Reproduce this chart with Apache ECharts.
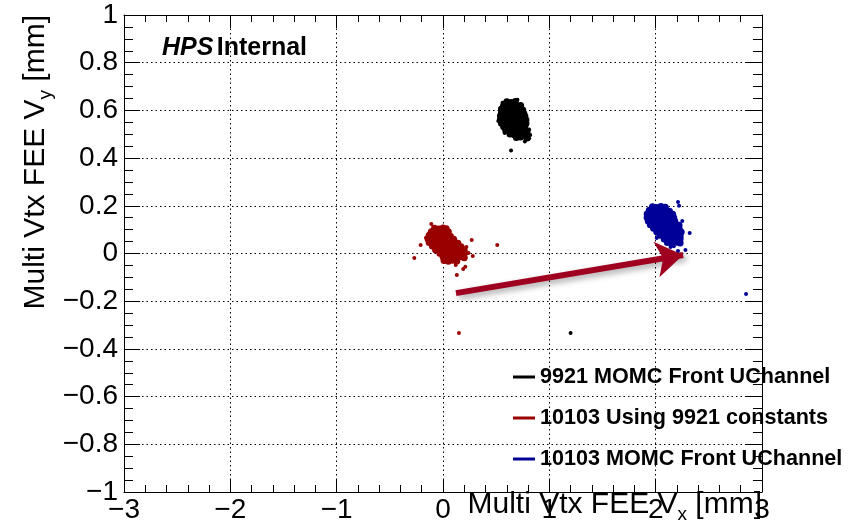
<!DOCTYPE html>
<html>
<head>
<meta charset="utf-8">
<script src="https://cdn.jsdelivr.net/npm/echarts@6/dist/echarts.min.js"></script>
<style>
html,body{margin:0;padding:0;background:#fff;}
#chart{width:859px;height:526px;}
</style>
</head>
<body>
<div id="chart"></div>
<script>
// ---- data (mm) ----
const seriesNames = ['9921 MOMC Front UChannel', '10103 Using 9921 constants', '10103 MOMC Front UChannel'];
const seriesColors = ['#000000', '#990000', '#000099'];

// 9921 cluster: dense core + sparse points
const black9921Core = [
  [0.60,0.636],[0.64,0.633],[0.68,0.637],
  [0.57,0.621],[0.61,0.618],[0.65,0.622],[0.69,0.619],[0.73,0.621],
  [0.55,0.606],[0.59,0.603],[0.63,0.607],[0.67,0.604],[0.71,0.606],[0.75,0.602],
  [0.55,0.591],[0.59,0.588],[0.63,0.592],[0.67,0.589],[0.71,0.591],[0.76,0.587],
  [0.54,0.576],[0.58,0.573],[0.62,0.577],[0.66,0.574],[0.70,0.576],[0.74,0.572],[0.77,0.575],
  [0.54,0.561],[0.58,0.558],[0.62,0.562],[0.66,0.559],[0.70,0.561],[0.74,0.557],[0.78,0.560],
  [0.55,0.546],[0.59,0.543],[0.63,0.547],[0.67,0.544],[0.71,0.546],[0.75,0.542],[0.78,0.545],
  [0.57,0.531],[0.61,0.528],[0.65,0.532],[0.69,0.529],[0.73,0.531],[0.77,0.527],
  [0.59,0.516],[0.63,0.513],[0.67,0.517],[0.71,0.514],[0.75,0.516],[0.79,0.512],
  [0.63,0.501],[0.67,0.498],[0.71,0.502],[0.75,0.499],[0.79,0.501],
  [0.69,0.486],[0.73,0.488],[0.79,0.484]
];
const black9921Sparse = [
  [0.64,0.432],[1.20,-0.333],[0.52,0.556],[0.81,0.482],[0.82,0.497],[0.77,0.470],
  [0.58,0.505],[0.70,0.645],[0.56,0.632],[0.81,0.520]
];

// 10103 with 9921 constants
const red10103oldCore = [
  [-0.08,0.106],[-0.04,0.103],[0.00,0.107],[0.03,0.104],
  [-0.11,0.091],[-0.07,0.088],[-0.03,0.092],[0.01,0.089],[0.05,0.091],
  [-0.13,0.076],[-0.09,0.073],[-0.05,0.077],[-0.01,0.074],[0.03,0.076],[0.07,0.072],
  [-0.14,0.061],[-0.10,0.058],[-0.06,0.062],[-0.02,0.059],[0.02,0.061],[0.06,0.057],[0.10,0.060],
  [-0.13,0.046],[-0.09,0.043],[-0.05,0.047],[-0.01,0.044],[0.03,0.046],[0.07,0.042],[0.11,0.045],[0.14,0.043],
  [-0.10,0.031],[-0.06,0.028],[-0.02,0.032],[0.02,0.029],[0.06,0.031],[0.10,0.027],[0.14,0.030],[0.17,0.028],
  [-0.07,0.016],[-0.03,0.013],[0.01,0.017],[0.05,0.014],[0.09,0.016],[0.13,0.012],[0.17,0.015],[0.20,0.013],
  [-0.03,0.001],[0.01,-0.002],[0.05,0.002],[0.09,-0.001],[0.13,0.001],[0.17,-0.003],[0.20,0.000],
  [0.00,-0.014],[0.04,-0.017],[0.08,-0.013],[0.12,-0.016],[0.16,-0.014],[0.20,-0.018],
  [0.01,-0.029],[0.05,-0.032],[0.09,-0.028],[0.13,-0.031]
];
const red10103oldSparse = [
  [-0.11,0.124],[-0.21,0.036],[-0.27,-0.019],[0.51,0.036],[0.27,0.057],
  [0.13,-0.090],[0.19,-0.065],[0.21,-0.056],[0.12,-0.048],[0.15,-0.333],
  [0.28,-0.010],[0.24,0.002],[0.22,0.027],[-0.16,0.066]
];

// 10103 with new constants
const blue10103Core = [
  [1.97,0.196],[2.01,0.193],[2.05,0.197],[2.09,0.194],
  [1.94,0.181],[1.98,0.178],[2.02,0.182],[2.06,0.179],[2.10,0.181],[2.13,0.177],
  [1.92,0.166],[1.96,0.163],[2.00,0.167],[2.04,0.164],[2.08,0.166],[2.12,0.162],[2.16,0.165],
  [1.92,0.151],[1.96,0.148],[2.00,0.152],[2.04,0.149],[2.08,0.151],[2.12,0.147],[2.17,0.150],
  [1.93,0.136],[1.97,0.133],[2.01,0.137],[2.05,0.134],[2.09,0.136],[2.13,0.132],[2.18,0.135],
  [1.95,0.121],[1.99,0.118],[2.03,0.122],[2.07,0.119],[2.11,0.121],[2.15,0.117],[2.19,0.120],[2.22,0.118],
  [1.98,0.106],[2.02,0.103],[2.06,0.107],[2.10,0.104],[2.14,0.106],[2.18,0.102],[2.22,0.105],
  [2.01,0.091],[2.05,0.088],[2.09,0.092],[2.13,0.089],[2.17,0.091],[2.21,0.087],[2.24,0.090],
  [2.04,0.076],[2.08,0.073],[2.12,0.077],[2.16,0.074],[2.20,0.076],[2.23,0.072],
  [2.08,0.061],[2.12,0.058],[2.16,0.062],[2.20,0.059],[2.23,0.061],
  [2.11,0.046],[2.15,0.043],[2.19,0.047],[2.23,0.044]
];
const blue10103Sparse = [
  [2.21,0.216],[2.22,0.200],[2.32,0.086],[2.25,0.136],[2.01,0.065],
  [2.14,0.027],[2.28,0.015],[2.21,0.011],[2.85,-0.170],[2.17,0.030]
];

// annotation arrow (start -> tip), mm
const arrowStart = [0.122, -0.166];
const arrowEnd = [2.258, -0.006];

// axes
const xMin = -3, xMax = 3, xStep = 1;
const yMin = -1, yMax = 1, yStep = 0.2;
const xTitle = 'Multi Vtx FEE V';
const xTitleSub = 'x';
const yTitle = 'Multi Vtx FEE V';
const yTitleSub = 'y';
const titleUnit = ' [mm]';

const FONT = 'Liberation Sans, Arial, Helvetica, sans-serif';

function fmtY(v) {
  const r = Math.round(v * 10) / 10;
  if (Math.abs(r) < 1e-9) return '0';
  const s = String(Math.abs(r));
  return (r < 0 ? '\u2212' : '') + s;
}
function fmtX(v) {
  const r = Math.round(v);
  return (r < 0 ? '\u2212' : '') + Math.abs(r);
}

const chart = echarts.init(document.getElementById('chart'), null, {renderer: 'canvas'});

const tickCommon = (len) => ({show: true, inside: true, length: len, lineStyle: {color: '#000', width: 1}});
const dotStyle = (c) => ({color: c, opacity: 1, borderWidth: 0});

const option = {
  animation: false,
  backgroundColor: '#fff',
  grid: {left: 124, right: 97, top: 15, bottom: 34, containLabel: false},
  xAxis: [
    {
      type: 'value', min: xMin, max: xMax, interval: xStep, position: 'bottom',
      axisLine: {show: true, onZero: false, lineStyle: {color: '#000', width: 1}},
      axisTick: tickCommon(13),
      minorTick: {show: true, splitNumber: 5, length: 7, lineStyle: {color: '#000', width: 1}},
      splitLine: {show: true, lineStyle: {color: '#000', type: [1.5, 3], width: 1}},
      axisLabel: {color: '#000', fontSize: 28, fontFamily: FONT, margin: 4, formatter: fmtX}
    },
    {
      type: 'value', min: xMin, max: xMax, interval: xStep, position: 'top',
      axisLine: {show: true, onZero: false, lineStyle: {color: '#000', width: 1}},
      axisTick: tickCommon(13),
      minorTick: {show: true, splitNumber: 5, length: 7, lineStyle: {color: '#000', width: 1}},
      splitLine: {show: false}, axisLabel: {show: false}
    }
  ],
  yAxis: [
    {
      type: 'value', min: yMin, max: yMax, interval: yStep, position: 'left',
      axisLine: {show: true, onZero: false, lineStyle: {color: '#000', width: 1}},
      axisTick: tickCommon(16),
      minorTick: {show: true, splitNumber: 4, length: 9, lineStyle: {color: '#000', width: 1}},
      splitLine: {show: true, lineStyle: {color: '#000', type: [1.5, 3], width: 1}},
      axisLabel: {color: '#000', fontSize: 28, fontFamily: FONT, margin: 6, formatter: fmtY}
    },
    {
      type: 'value', min: yMin, max: yMax, interval: yStep, position: 'right',
      axisLine: {show: true, onZero: false, lineStyle: {color: '#000', width: 1}},
      axisTick: tickCommon(16),
      minorTick: {show: true, splitNumber: 4, length: 9, lineStyle: {color: '#000', width: 1}},
      splitLine: {show: false}, axisLabel: {show: false}
    }
  ],
  legend: {
    orient: 'vertical', left: 513, top: 366, padding: 0, itemGap: 19,
    itemWidth: 22, itemHeight: 3, icon: 'rect',
    textStyle: {fontSize: 21.6, fontWeight: 'bold', fontFamily: FONT, color: '#000'},
    data: seriesNames.map((n, i) => ({name: n, itemStyle: {color: seriesColors[i]}}))
  },
  graphic: [
    {
      type: 'text', left: 162, top: 36, z: 100,
      style: {
        text: '{a|HPS} {b|Internal}',
        rich: {
          a: {fontSize: 25, fontWeight: 'bold', fontStyle: 'italic', fontFamily: FONT, fill: '#000'},
          b: {fontSize: 25, fontWeight: 'bold', fontFamily: FONT, fill: '#000'}
        }
      }
    },
    {
      type: 'text', right: 97, top: 490, z: 100,
      style: {
        text: '{m|' + xTitle + '}{s|' + xTitleSub + '}{m|' + titleUnit + '}',
        rich: {
          m: {fontSize: 30, fontFamily: FONT, fill: '#000', verticalAlign: 'bottom'},
          s: {fontSize: 19, fontFamily: FONT, fill: '#000', verticalAlign: 'bottom', padding: [0, 0, -4, 0]}
        }
      }
    },
    {
      type: 'text', x: 21, y: 15, rotation: Math.PI / 2, z: 100,
      style: {
        text: '{m|' + yTitle + '}{s|' + yTitleSub + '}{m|' + titleUnit + '}',
        align: 'right', verticalAlign: 'top',
        rich: {
          m: {fontSize: 30, fontFamily: FONT, fill: '#000', verticalAlign: 'bottom'},
          s: {fontSize: 19, fontFamily: FONT, fill: '#000', verticalAlign: 'bottom', padding: [0, 0, -4, 0]}
        }
      }
    }
  ],
  series: [
    {name: seriesNames[0], type: 'scatter', data: black9921Core, symbolSize: 7, itemStyle: dotStyle(seriesColors[0]), z: 3},
    {name: seriesNames[0], type: 'scatter', data: black9921Sparse, symbolSize: 4, itemStyle: dotStyle(seriesColors[0]), z: 3},
    {name: seriesNames[1], type: 'scatter', data: red10103oldCore, symbolSize: 7, itemStyle: dotStyle(seriesColors[1]), z: 3},
    {name: seriesNames[1], type: 'scatter', data: red10103oldSparse, symbolSize: 4, itemStyle: dotStyle(seriesColors[1]), z: 3},
    {name: seriesNames[2], type: 'scatter', data: blue10103Core, symbolSize: 7, itemStyle: dotStyle(seriesColors[2]), z: 3},
    {name: seriesNames[2], type: 'scatter', data: blue10103Sparse, symbolSize: 4, itemStyle: dotStyle(seriesColors[2]), z: 3},
    {
      name: 'arrow', type: 'lines', coordinateSystem: 'cartesian2d', z: 4,
      symbol: ['none', 'arrow'], symbolSize: 27,
      lineStyle: {color: '#a0001f', width: 6, opacity: 1, curveness: 0,
        shadowBlur: 6, shadowColor: 'rgba(0,0,0,0.35)', shadowOffsetX: 3, shadowOffsetY: 3},
      data: [{coords: [arrowStart, arrowEnd]}]
    }
  ]
};
chart.setOption(option);
</script>
</body>
</html>
